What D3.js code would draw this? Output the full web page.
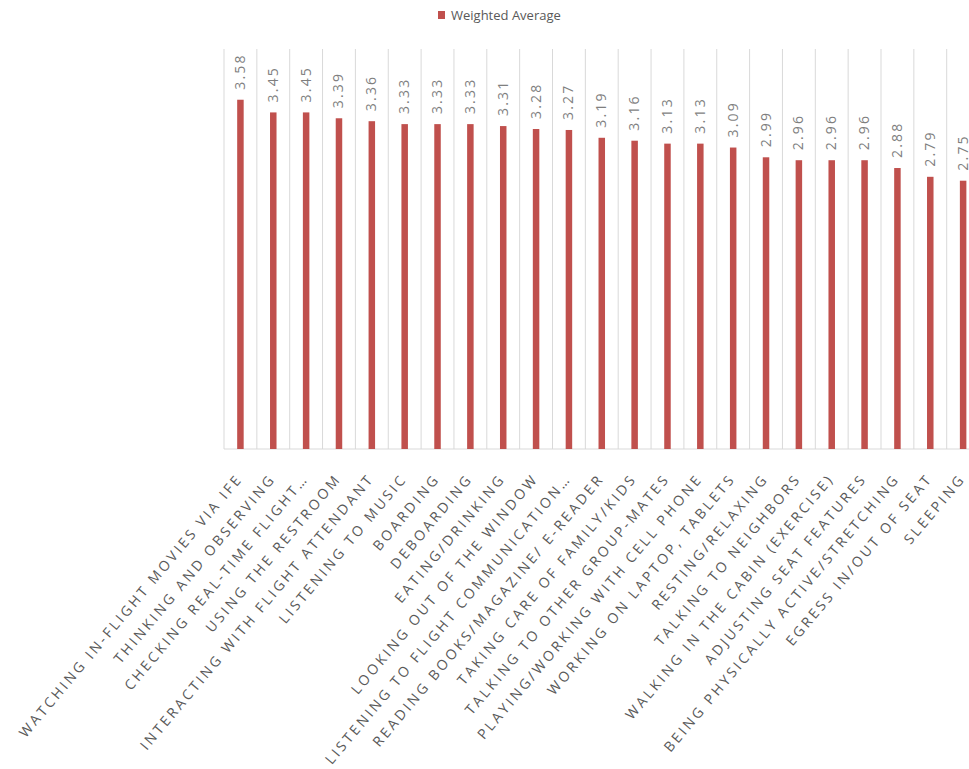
<!DOCTYPE html>
<html><head><meta charset="utf-8">
<script src="https://cdn.jsdelivr.net/npm/d3@7"></script>
<style>html,body{margin:0;padding:0;background:#fff;overflow:hidden}</style>
</head><body>
<script>
const categories = [
  "WATCHING IN-FLIGHT MOVIES VIA IFE","THINKING AND OBSERVING","CHECKING REAL-TIME FLIGHT…",
  "USING THE RESTROOM","INTERACTING WITH FLIGHT ATTENDANT","LISTENING TO MUSIC","BOARDING",
  "DEBOARDING","EATING/DRINKING","LOOKING OUT OF THE WINDOW","LISTENING TO FLIGHT COMMUNICATION…",
  "READING BOOKS/MAGAZINE/ E-READER","TAKING CARE OF FAMILY/KIDS","TALKING TO OTHER GROUP-MATES",
  "PLAYING/WORKING WITH CELL PHONE","WORKING ON LAPTOP, TABLETS","RESTING/RELAXING",
  "TALKING TO NEIGHBORS","WALKING IN THE CABIN (EXERCISE)","ADJUSTING SEAT FEATURES",
  "BEING PHYSICALLY ACTIVE/STRETCHING","EGRESS IN/OUT OF SEAT","SLEEPING"
];
const weightedAverage = [3.58,3.45,3.45,3.39,3.36,3.33,3.33,3.33,3.31,3.28,3.27,3.19,3.16,3.13,3.13,3.09,2.99,2.96,2.96,2.96,2.88,2.79,2.75];
const seriesName = "Weighted Average";

const W = 969, H = 769;
const svg = d3.select("body").append("svg").attr("width", W).attr("height", H);
const x = d3.scaleBand().domain(categories).range([224, 224 + 23 * 32.85]).padding(0);
const y = d3.scaleLinear().domain([0, 4.1]).range([449, 49]);
const bw = x.bandwidth();

// gridlines
const grid = svg.append("g");
d3.range(categories.length + 1).forEach(i => {
  const gx = x.range()[0] + i * bw;
  grid.append("line").attr("x1", gx).attr("x2", gx).attr("y1", y(4.1)).attr("y2", y(0))
    .attr("stroke", "#d9d9d9").attr("stroke-width", 1);
});
svg.append("line").attr("x1", x.range()[0]).attr("x2", x.range()[1]).attr("y1", y(0)).attr("y2", y(0))
  .attr("stroke", "#d9d9d9").attr("stroke-width", 1);

// bars
const barW = 6.5;
svg.append("g").selectAll("rect").data(weightedAverage).join("rect")
  .attr("x", (d, i) => x(categories[i]) + bw / 2 - barW / 2)
  .attr("y", d => y(d))
  .attr("width", barW)
  .attr("height", d => y(0) - y(d))
  .attr("fill", "#c0504d");

// value labels
svg.append("g").selectAll("text").data(weightedAverage).join("text")
  .attr("transform", (d, i) => `translate(${x(categories[i]) + bw / 2 + 4.5},${y(d) - 10}) rotate(-90)`)
  .attr("font-family", "Open Sans, sans-serif").attr("font-size", 14)
  .attr("letter-spacing", 2.2)
  .attr("fill", "#7f7f7f")
  .text(d => d.toFixed(2));

// category labels
const xAxis = d3.axisBottom(x).tickSize(0).tickPadding(0);
const ax = svg.append("g").attr("transform", `translate(0,${y(0)})`).call(xAxis);
ax.select(".domain").remove();
ax.selectAll("text")
  .attr("font-family", "Open Sans, sans-serif").attr("font-size", 14)
  .attr("letter-spacing", 2.85)
  .attr("fill", "#595959")
  .attr("text-anchor", "end")
  .attr("dy", 0).attr("y", 0)
  .attr("transform", "translate(3,30) rotate(-50)");

// legend
const lg = svg.append("g");
lg.append("rect").attr("x", 438).attr("y", 11).attr("width", 7).attr("height", 8).attr("fill", "#c0504d");
lg.append("text").attr("x", 451).attr("y", 20).attr("font-family", "Open Sans, sans-serif")
  .attr("font-size", 13).attr("fill", "#595959").text(seriesName);
</script>
</body></html>
